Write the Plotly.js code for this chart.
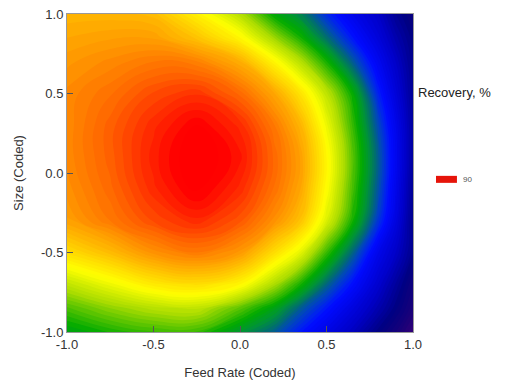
<!DOCTYPE html>
<html>
<head>
<meta charset="utf-8">
<script src="https://cdn.plot.ly/plotly-3.0.1.min.js"></script>
<style>html,body{margin:0;padding:0;background:#fff;}#chart{width:506px;height:383px;}</style>
</head>
<body>
<div id="chart"></div>
<script>
// Coded factor levels (sample positions)
const feedRate = [-1, -0.75, -0.5, -0.25, 0, 0.2, 0.35, 0.5, 0.65, 0.8, 0.9, 1];
const sizeLevels = [-1, -0.85, -0.7, -0.5, -0.3, -0.1, 0.1, 0.3, 0.5, 0.7, 0.85, 1];

// Recovery, %, one row per Size level (bottom to top)
const recSizeM100 = [68, 69.5, 70.5, 70.5, 67, 64, 60.5, 57.5, 54.5, 51, 49, 46.5];
const recSizeM085 = [71, 73, 74.5, 75, 71.5, 68, 64, 60.5, 57, 53.5, 51, 48.5];
const recSizeM070 = [75, 77.5, 80, 81, 79, 74, 69.5, 64.5, 60, 55.5, 52.5, 49.5];
const recSizeM050 = [81, 83.5, 86.5, 88, 86, 81, 77, 70.5, 64.5, 58, 55, 51.5];
const recSizeM030 = [85.5, 88, 90.5, 92, 90, 86.5, 83, 76.5, 69.5, 62, 57, 51.5];
const recSizeM010 = [86.5, 89, 92, 94.3, 92, 88.5, 85, 78.5, 71, 63.5, 58, 52];
const recSizeP010 = [87, 89.5, 92.5, 95, 93, 89, 85.5, 79, 71.5, 64, 58.5, 52.5];
const recSizeP030 = [87, 89.5, 92, 94, 92, 88, 84, 77.5, 70.5, 63, 58, 52.5];
const recSizeP050 = [87, 88.5, 90.5, 91.5, 89, 85, 80.5, 75, 69, 61, 56.5, 52];
const recSizeP070 = [86, 87, 88, 87.5, 84.5, 79, 74.5, 69.5, 64, 58.5, 55, 51.5];
const recSizeP085 = [85, 85.5, 85.5, 83, 79, 73.5, 69.5, 65, 60.5, 56.5, 53.5, 51];
const recSizeP100 = [84, 84, 83.5, 79.5, 74.5, 68.5, 66, 61.5, 58, 55, 52, 50];

const tickValues = [-1, -0.5, 0, 0.5, 1];
const tickLabels = ['-1.0', '-0.5', '0.0', '0.5', '1.0'];
const legendLabel = "90";
const legendTitle = "Recovery, %";

const recovery = [recSizeM100, recSizeM085, recSizeM070, recSizeM050, recSizeM030, recSizeM010,
  recSizeP010, recSizeP030, recSizeP050, recSizeP070, recSizeP085, recSizeP100];

const zMin = 46, zMax = 96;
const colorStops = [
  [46, 'rgb(60,0,120)'], [48, 'rgb(30,0,120)'], [51, 'rgb(0,0,130)'], [55, 'rgb(0,0,200)'],
  [60, 'rgb(0,10,255)'], [61, 'rgb(0,30,245)'], [63, 'rgb(0,70,190)'], [65, 'rgb(0,110,110)'],
  [67, 'rgb(0,150,50)'], [69, 'rgb(0,170,0)'], [71, 'rgb(70,190,0)'], [74, 'rgb(170,220,0)'],
  [78.5, 'rgb(255,255,0)'], [82, 'rgb(255,210,0)'], [86, 'rgb(255,155,0)'],
  [89.5, 'rgb(255,100,0)'], [92, 'rgb(255,45,0)'], [94, 'rgb(255,0,0)'], [96, 'rgb(255,0,0)']
];
const colorscale = colorStops.map(s => [(s[0] - zMin) / (zMax - zMin), s[1]]);

const trace = {
  type: 'contour',
  x: feedRate,
  y: sizeLevels,
  z: recovery,
  zmin: zMin, zmax: zMax,
  colorscale: colorscale,
  autocontour: false,
  contours: {coloring: 'fill', start: zMin, end: zMax, size: 0.6},
  line: {width: 0, smoothing: 1.3},
  showscale: false,
  hoverinfo: 'skip'
};

const font = {family: 'Liberation Sans, Arial, sans-serif', size: 13, color: '#333'};
const axisCommon = {
  range: [-1, 1], tickvals: tickValues, ticktext: tickLabels,
  ticks: 'inside', ticklen: 6, tickcolor: '#555', tickwidth: 1,
  showline: true, linecolor: '#999', linewidth: 1, mirror: true,
  showgrid: false, zeroline: false, tickfont: font
};

const layout = {
  width: 506, height: 383,
  margin: {l: 67, r: 93, t: 14, b: 51},
  paper_bgcolor: '#fff', plot_bgcolor: '#fff',
  font: font,
  showlegend: false,
  xaxis: Object.assign({}, axisCommon, {title: {text: 'Feed Rate (Coded)', font: font, standoff: 17}}),
  yaxis: Object.assign({}, axisCommon, {title: {text: 'Size (Coded)', font: font, standoff: 14}}),
  shapes: [
    {type: 'rect', xref: 'paper', yref: 'paper', x0: 1.0665, x1: 1.127, y0: 0.469, y1: 0.491,
     fillcolor: 'rgb(230,20,10)', line: {width: 0}}
  ],
  annotations: [
    {text: legendTitle, xref: 'paper', yref: 'paper', x: 1.008, y: 0.752, xanchor: 'left', yanchor: 'middle',
     showarrow: false, font: {family: font.family, size: 13, color: '#222'}},
    {text: legendLabel, xref: 'paper', yref: 'paper', x: 1.14, y: 0.48, xanchor: 'left', yanchor: 'middle',
     showarrow: false, font: {family: font.family, size: 8, color: '#555'}}
  ]
};

Plotly.newPlot('chart', [trace], layout, {displayModeBar: false, staticPlot: true});
</script>
</body>
</html>
